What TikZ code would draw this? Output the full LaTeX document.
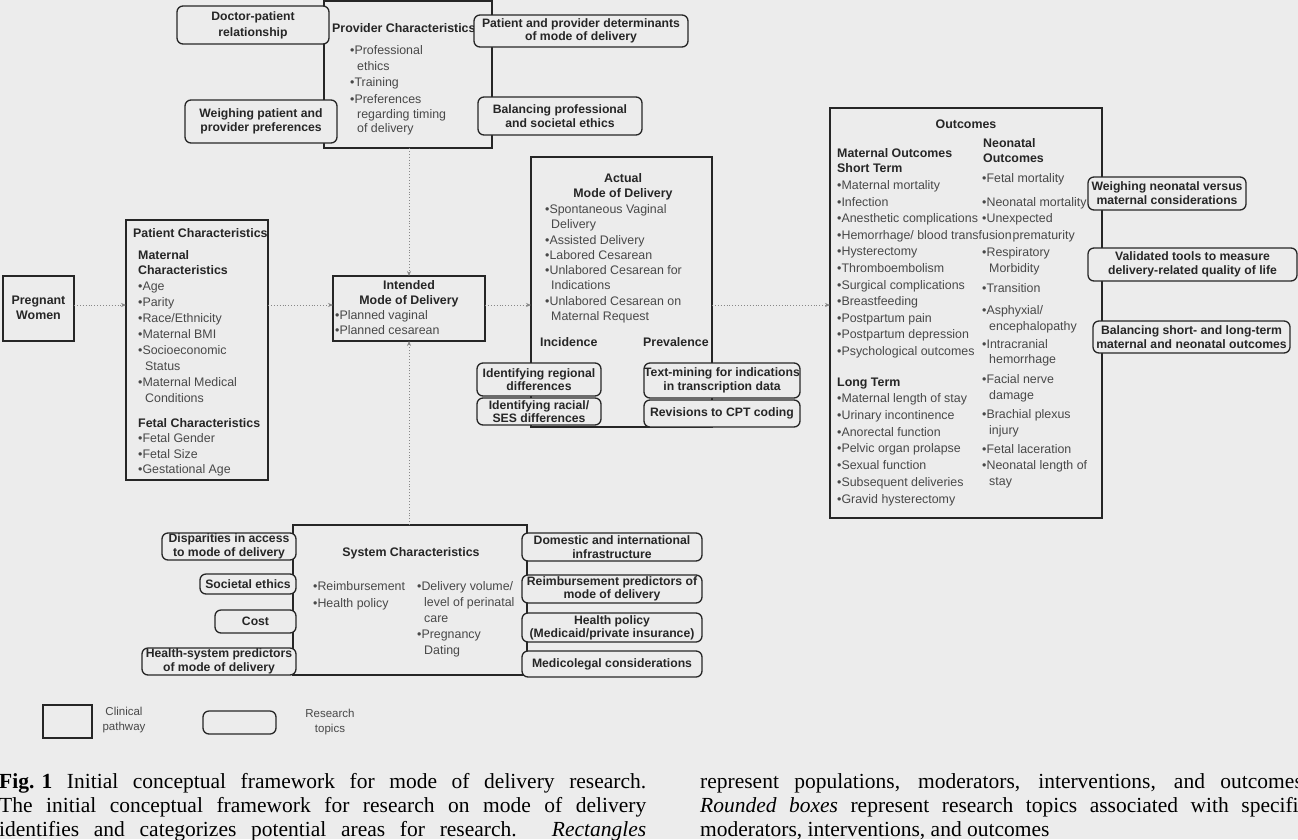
\documentclass[tikz,border=0pt]{standalone}
\usepackage{fontspec}
\setmainfont{Liberation Serif}
\newfontfamily\arialf{Liberation Sans}
\usetikzlibrary{arrows.meta}
\definecolor{bg}{RGB}{236,236,236}
\definecolor{ink}{RGB}{38,38,38}
\definecolor{txt}{RGB}{72,72,72}
\definecolor{arrc}{RGB}{135,135,135}
\begin{document}
\begin{tikzpicture}[x=1pt,y=-1pt,
  clin/.style={draw=ink,line width=1.4pt,fill=bg,inner sep=0pt,outer sep=0pt},
  res/.style={draw=ink,line width=1.3pt,rounded corners=6pt,fill=bg,inner sep=0pt,outer sep=0pt,align=center,text=ink,font=\arialf\bfseries\fontsize{12.2}{14.5}\selectfont},
  tx/.style={anchor=base west,inner sep=0pt,text=txt,font=\arialf\fontsize{12.4}{15}\selectfont},
  tb/.style={anchor=base west,inner sep=0pt,text=ink,font=\arialf\bfseries\fontsize{12.4}{15}\selectfont},
  tc/.style={tb,anchor=base},
  lgt/.style={inner sep=0pt,align=center,text=txt,font=\arialf\fontsize{11.5}{15}\selectfont},
  captxt/.style={anchor=base west,inner sep=0pt,text=black,font=\fontsize{21.5}{24}\selectfont},
  arr/.style={draw=arrc,line width=0.9pt,dotted,-{Stealth[length=5pt,width=4pt]}},
]
\fill[bg] (0,0) rectangle (1298,839);
\useasboundingbox (0,0) rectangle (1298,839);

% ---------- clinical boxes ----------
\node[clin,minimum width=168pt,minimum height=147pt] (prov) at (408,74.5) {};
\node[clin,minimum width=71pt,minimum height=65pt] (preg) at (38.5,308.5) {};
\node[clin,minimum width=142pt,minimum height=260pt] (pat) at (197,350) {};
\node[clin,minimum width=152pt,minimum height=65pt] (intd) at (409,308.5) {};
\node[clin,minimum width=181pt,minimum height=270pt] (act) at (621.5,292) {};
\node[clin,minimum width=272pt,minimum height=410pt] (outc) at (966,313) {};
\node[clin,minimum width=234pt,minimum height=150pt] (sys) at (410,600) {};

% ---------- arrows ----------
\coordinate (ay) at (0,305);
\draw[arr] (preg.east |- ay) -- (pat.west |- ay);
\draw[arr] (pat.east |- ay) -- (intd.west |- ay);
\draw[arr] (intd.east |- ay) -- (act.west |- ay);
\draw[arr] (act.east |- ay) -- (outc.west |- ay);
\draw[arr] (intd.north |- prov.south) -- (intd.north);
\draw[arr] (intd.south |- sys.north) -- (intd.south);

% ---------- provider text ----------
\node[tb] (pv0) at (332,32.5) {Provider Characteristics};
\node[tx] (pv1) at (350,54.5) {•Professional};
\node[tx] (pv2) at (357,70.5) {ethics};
\node[tx] (pv3) at (350,86.5) {•Training};
\node[tx] (pv4) at (350,103.5) {•Preferences};
\node[tx] (pv5) at (357,118.5) {regarding timing};
\node[tx] (pv6) at (357,132.5) {of delivery};

% ---------- pregnant women ----------
\node[tc] (pw1) at (38.5,304.5) {Pregnant};
\node[tc] (pw2) at (38.5,319.5) {Women};

% ---------- patient text ----------
\node[tb] (pa0) at (133,237.5) {Patient Characteristics};
\node[tb] (pa1) at (138,259.5) {Maternal};
\node[tb] (pa2) at (138,274.5) {Characteristics};
\node[tx] (pa3) at (138,290.5) {•Age};
\node[tx] (pa4) at (138,306.5) {•Parity};
\node[tx] (pa5) at (138,322.5) {•Race/Ethnicity};
\node[tx] (pa6) at (138,338.5) {•Maternal BMI};
\node[tx] (pa7) at (138,354.5) {•Socioeconomic};
\node[tx] (pa8) at (145,370.5) {Status};
\node[tx] (pa9) at (138,386.5) {•Maternal Medical};
\node[tx] (pa10) at (145,402.5) {Conditions};
\node[tb] (pa11) at (138,427.5) {Fetal Characteristics};
\node[tx] (pa12) at (138,442.5) {•Fetal Gender};
\node[tx] (pa13) at (138,458.5) {•Fetal Size};
\node[tx] (pa14) at (138,473.5) {•Gestational Age};

% ---------- intended ----------
\node[tc] (in0) at (409,289.5) {Intended};
\node[tc] (in1) at (409,304.5) {Mode of Delivery};
\node[tx] (in2) at (335,319.5) {•Planned vaginal};
\node[tx] (in3) at (335,334.5) {•Planned cesarean};

% ---------- actual ----------
\node[tc] (ac0) at (623,182.5) {Actual};
\node[tc] (ac1) at (623,197.5) {Mode of Delivery};
\node[tx] (ac2) at (545,213.5) {•Spontaneous Vaginal};
\node[tx] (ac3) at (551,228.5) {Delivery};
\node[tx] (ac4) at (545,244.5) {•Assisted Delivery};
\node[tx] (ac5) at (545,259.5) {•Labored Cesarean};
\node[tx] (ac6) at (545,274.5) {•Unlabored Cesarean for};
\node[tx] (ac7) at (551,289.5) {Indications};
\node[tx] (ac8) at (545,305.5) {•Unlabored Cesarean on};
\node[tx] (ac9) at (551,320.5) {Maternal Request};
\node[tb] (ac10) at (540,346.5) {Incidence};
\node[tb] (ac11) at (643,346.5) {Prevalence};

% ---------- outcomes ----------
\node[tc] (oc0) at (966,128.5) {Outcomes};
\node[tb] (om0) at (837,157.5) {Maternal Outcomes};
\node[tb] (om1) at (837,172.5) {Short Term};
\node[tx] (om2) at (837,189.5) {•Maternal mortality};
\node[tx] (om3) at (837,206.1) {•Infection};
\node[tx] (om4) at (837,222.7) {•Anesthetic complications};
\node[tx] (om5) at (837,239.3) {•Hemorrhage/ blood transfusion};
\node[tx] (om6) at (837,255.9) {•Hysterectomy};
\node[tx] (om7) at (837,272.5) {•Thromboembolism};
\node[tx] (om8) at (837,289.1) {•Surgical complications};
\node[tx] (om9) at (837,305.7) {•Breastfeeding};
\node[tx] (om10) at (837,322.3) {•Postpartum pain};
\node[tx] (om11) at (837,338.9) {•Postpartum depression};
\node[tx] (om12) at (837,355.5) {•Psychological outcomes};
\node[tb] (om13) at (837,386.5) {Long Term};
\node[tx] (om14) at (837,402.5) {•Maternal length of stay};
\node[tx] (om15) at (837,419.3) {•Urinary incontinence};
\node[tx] (om16) at (837,436.1) {•Anorectal function};
\node[tx] (om17) at (837,452.9) {•Pelvic organ prolapse};
\node[tx] (om18) at (837,469.7) {•Sexual function};
\node[tx] (om19) at (837,486.5) {•Subsequent deliveries};
\node[tx] (om20) at (837,503.3) {•Gravid hysterectomy};

\node[tb] (on0) at (983,147.5) {Neonatal};
\node[tb] (on1) at (983,162.5) {Outcomes};
\node[tx] (on2) at (982,182.5) {•Fetal mortality};
\node[tx] (on3) at (982,206.5) {•Neonatal mortality};
\node[tx] (on4) at (982,222.5) {•Unexpected};
\node[tx] (on5) at ([xshift=0.5pt]om5.base east) {prematurity};
\node[tx] (on6) at (982,256.5) {•Respiratory};
\node[tx] (on7) at (989,272.5) {Morbidity};
\node[tx] (on8) at (982,292.5) {•Transition};
\node[tx] (on9) at (982,314.5) {•Asphyxial/};
\node[tx] (on10) at (989,330.5) {encephalopathy};
\node[tx] (on11) at (982,348.5) {•Intracranial};
\node[tx] (on12) at (989,363.5) {hemorrhage};
\node[tx] (on13) at (982,383.5) {•Facial nerve};
\node[tx] (on14) at (989,399.5) {damage};
\node[tx] (on15) at (982,418.5) {•Brachial plexus};
\node[tx] (on16) at (989,434.5) {injury};
\node[tx] (on17) at (982,453.5) {•Fetal laceration};
\node[tx] (on18) at (982,469.5) {•Neonatal length of};
\node[tx] (on19) at (989,485.5) {stay};

% ---------- system ----------
\node[tc] (sy0) at (411,556.5) {System Characteristics};
\node[tx] (sy1) at (313,590.5) {•Reimbursement};
\node[tx] (sy2) at (313,607.5) {•Health policy};
\node[tx] (sy3) at (417,590.5) {•Delivery volume/};
\node[tx] (sy4) at (424,606.5) {level of perinatal};
\node[tx] (sy5) at (424,622.5) {care};
\node[tx] (sy6) at (417,638.5) {•Pregnancy};
\node[tx] (sy7) at (424,654.5) {Dating};

% ---------- research topics ----------
\node[res,minimum width=152pt,minimum height=38pt] (r1) at (253,25) {Doctor-patient\\[1.5pt]relationship};
\node[res,minimum width=214pt,minimum height=32pt] (r2) at (581,31) {Patient and provider determinants\\[-1pt]of mode of delivery};
\node[res,minimum width=152pt,minimum height=43pt] (r3) at (261,121.5) {Weighing patient and\\provider preferences};
\node[res,minimum width=164pt,minimum height=38pt] (r4) at (560,116) {Balancing professional\\and societal ethics};
\node[res,minimum width=124pt,minimum height=33pt] (r5) at (539,379.5) {Identifying regional\\[-1pt]differences};
\node[res,minimum width=124pt,minimum height=27pt] (r6) at (539,411.5) {Identifying racial/\\[-2pt]SES differences};
\node[res,minimum width=156pt,minimum height=35pt] (r7) at (722,380.5) {Text-mining for indications\\[-1pt]in transcription data};
\node[res,minimum width=156pt,minimum height=27pt] (r8) at (722,413.5) {Revisions to CPT coding};
\node[res,minimum width=158pt,minimum height=33pt] (r9) at (1167,193.5) {Weighing neonatal versus\\[-0.5pt]maternal considerations};
\node[res,minimum width=209pt,minimum height=33pt] (r10) at (1192.5,264.5) {Validated tools to measure\\[-0.5pt]delivery-related quality of life};
\node[res,minimum width=197pt,minimum height=32pt] (r11) at (1191.5,337) {Balancing short- and long-term\\[-0.5pt]maternal and neonatal outcomes};
\node[res,minimum width=134pt,minimum height=27pt] (r12) at (229,546.5) {Disparities in access\\[-0.5pt]to mode of delivery};
\node[res,minimum width=96pt,minimum height=20pt] (r13) at (248,584) {Societal ethics};
\node[res,minimum width=81pt,minimum height=23pt] (r14) at (255.5,621.5) {Cost};
\node[res,minimum width=154pt,minimum height=27pt] (r15) at (219,661.5) {Health-system predictors\\[-0.5pt]of mode of delivery};
\node[res,minimum width=180pt,minimum height=28pt] (r16) at (612,547) {Domestic and international\\[-0.5pt]infrastructure};
\node[res,minimum width=180pt,minimum height=28pt] (r17) at (612,589) {Reimbursement predictors of\\[-2pt]mode of delivery};
\node[res,minimum width=180pt,minimum height=29pt] (r18) at (612,627.5) {Health policy\\[-1.5pt](Medicaid/private insurance)};
\node[res,minimum width=180pt,minimum height=26pt] (r19) at (612,664) {Medicolegal considerations};

% ---------- legend ----------
\node[clin,line width=1.2pt,minimum width=49pt,minimum height=33pt] (lg1) at (67.5,721.5) {};
\node[lgt] (lg1t) at (124,720.5) {Clinical\\pathway};
\node[res,minimum width=73pt,minimum height=23pt] (lg2) at (239.5,722.5) {};
\node[lgt] (lg2t) at (330,722) {Research\\topics};

% ---------- caption ----------
\node[captxt] (c1) at (-1,788) {\makebox[647pt][s]{\textbf{\mbox{Fig. 1}} Initial conceptual framework for mode of delivery research.}};
\node[captxt] (c2) at (-1,812) {\makebox[647pt][s]{The initial conceptual framework for research on mode of delivery}};
\node[captxt] (c3) at (-1,836) {\makebox[647pt][s]{identifies and categorizes potential areas for research. \textit{Rectangles}}};
\node[captxt] (c4) at (700,788) {\makebox[608pt][s]{represent populations, moderators, interventions, and outcomes.}};
\node[captxt] (c5) at (700,812) {\makebox[608pt][s]{\textit{Rounded boxes} represent research topics associated with specific}};
\node[captxt] (c6) at (700,836) {moderators, interventions, and outcomes};
\end{tikzpicture}
\end{document}
